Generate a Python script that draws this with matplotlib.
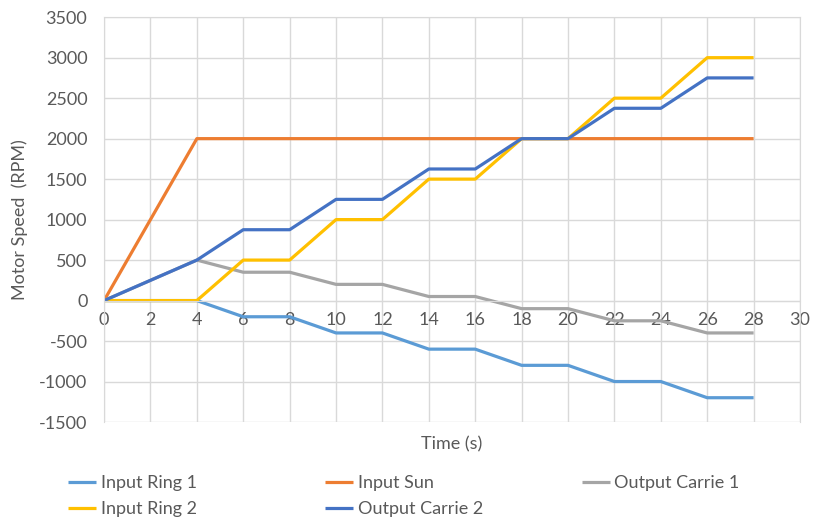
import numpy as np
import matplotlib
matplotlib.use('Agg')
import matplotlib.pyplot as plt

plt.rcParams['font.family'] = ['Lato', 'DejaVu Sans']
plt.rcParams['axes.unicode_minus'] = False

time_s = [0, 2, 4, 6, 8, 10, 12, 14, 16, 18, 20, 22, 24, 26, 28]
input_ring_1 = [0, 0, 0, -200, -200, -400, -400, -600, -600, -800, -800, -1000, -1000, -1200, -1200]
input_sun = [0, 1000, 2000, 2000, 2000, 2000, 2000, 2000, 2000, 2000, 2000, 2000, 2000, 2000, 2000]
output_carrie_1 = [0, 250, 500, 350, 350, 200, 200, 50, 50, -100, -100, -250, -250, -400, -400]
input_ring_2 = [0, 0, 0, 500, 500, 1000, 1000, 1500, 1500, 2000, 2000, 2500, 2500, 3000, 3000]
output_carrie_2 = [0, 250, 500, 875, 875, 1250, 1250, 1625, 1625, 2000, 2000, 2375, 2375, 2750, 2750]

series = [
    ('Input Ring 1', input_ring_1, '#5B9BD5'),
    ('Input Sun', input_sun, '#ED7D31'),
    ('Output Carrie 1', output_carrie_1, '#A5A5A5'),
    ('Input Ring 2', input_ring_2, '#FFC000'),
    ('Output Carrie 2', output_carrie_2, '#4472C4'),
]

fs = 13

fig = plt.figure(figsize=(8.13, 5.21), dpi=100)
ax = fig.add_axes([0.128, 0.19, 0.856, 0.777])

lines = {}
for name, vals, col in series:
    lines[name], = ax.plot(time_s, vals, color=col, lw=2.3, label=name, solid_capstyle='butt')

ax.set_xlim(0, 30)
ax.set_ylim(-1500, 3500)
ax.set_xticks(np.arange(0, 31, 2))
ax.set_yticks(np.arange(-1500, 3501, 500))
ax.grid(True, color='#D9D9D9', lw=1)
ax.set_axisbelow(True)

for s in ['top', 'right', 'left']:
    ax.spines[s].set_color('#D9D9D9')
ax.spines['bottom'].set_position(('data', 0))
ax.spines['bottom'].set_color('#D9D9D9')
ax.tick_params(length=0, labelsize=fs, colors='#595959')
ax.tick_params(axis='x', pad=8)
ax.tick_params(axis='y', pad=12)

ax.set_xlabel('Time (s)', fontsize=fs, color='#595959')
ax.xaxis.set_label_coords(0.5, -0.035)
ax.set_ylabel('Motor Speed  (RPM)', fontsize=fs, color='#595959')
ax.yaxis.set_label_coords(-0.11, 0.5)

# three one-column legends, laid out like Excel's legend rows
legend_cols = [
    (68, ['Input Ring 1', 'Input Ring 2']),
    (325, ['Input Sun', 'Output Carrie 2']),
    (582, ['Output Carrie 1']),
]
for x0, names in legend_cols:
    leg = fig.legend([lines[n] for n in names], names, loc='upper left',
                     bbox_to_anchor=(x0 / 813, 1 - 475 / 521), frameon=False,
                     fontsize=fs, labelcolor='#595959', handlelength=1.55,
                     handletextpad=0.25, labelspacing=0.55, borderpad=0,
                     borderaxespad=0)

fig.savefig('out.png', dpi=100)
